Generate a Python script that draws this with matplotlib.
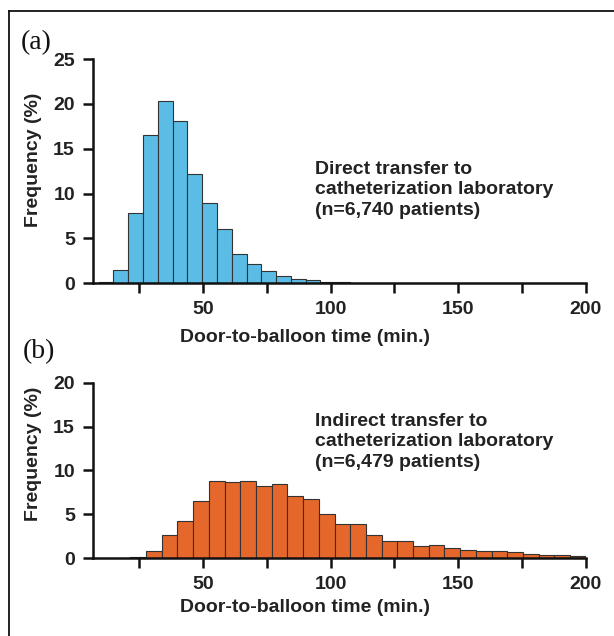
import matplotlib
matplotlib.use("Agg")
import matplotlib.pyplot as plt
import numpy as np

# --- data ----------------------------------------------------------------
direct_start, direct_width = 9.2, 5.79      # min
direct_freq = [0.15, 1.5, 7.8, 16.5, 20.3, 18.1, 12.2, 8.9, 6.0, 3.3, 2.2,
               1.4, 0.8, 0.5, 0.35, 0.2, 0.1, 0.08, 0.06, 0.05, 0.04, 0.04,
               0.03, 0.03, 0.02, 0.02, 0.02, 0.01, 0.01, 0.01, 0.01, 0.01,
               0.01]
indirect_start, indirect_width = 21.6, 6.15
indirect_freq = [0.2, 0.8, 2.6, 4.3, 6.5, 8.85, 8.7, 8.85, 8.2, 8.45, 7.15,
                 6.7, 5.1, 3.85, 3.85, 2.6, 2.0, 2.0, 1.35, 1.5, 1.2, 1.0,
                 0.85, 0.85, 0.7, 0.5, 0.4, 0.4, 0.25]

x_ticks = [50, 100, 150, 200]
x_minor = [25, 75, 125, 175]

BLUE = "#5BBDE6"
ORANGE = "#E5672B"
SANS = ["Liberation Sans", "DejaVu Sans"]
SERIF = ["Liberation Serif", "DejaVu Serif"]
FS = 14

W, H = 614, 636
fig = plt.figure(figsize=(W / 100, H / 100), dpi=100)


def px(x0, y0, x1, y1):
    # pixel box (top-left origin) -> figure fraction rect
    return [x0 / W, 1 - y1 / H, (x1 - x0) / W, (y1 - y0) / H]


def hist_panel(rect, start, width, freq, color, ymax, xlabel_y, ylabel_y):
    ax = fig.add_axes(rect)
    edges = start + width * np.arange(len(freq))
    ax.bar(edges, freq, width=width, align="edge", color=color,
           edgecolor="#333333", linewidth=0.8, zorder=2)
    ax.set_xlim(7, 200)
    ax.set_ylim(0, ymax)
    ax.set_xticks(x_ticks)
    ax.set_xticks(x_minor, minor=True)
    ax.set_yticks(np.arange(0, ymax + 1, 5))
    for s in ["top", "right"]:
        ax.spines[s].set_visible(False)
    for s in ["left", "bottom"]:
        ax.spines[s].set_linewidth(1.8)
        ax.spines[s].set_color("#111")
    ax.tick_params(axis="both", which="both", direction="out", length=7,
                   width=1.8, color="#111", pad=6)
    ax.tick_params(axis="x", which="minor", labelbottom=False)
    for lab in ax.get_xticklabels() + ax.get_yticklabels():
        lab.set_fontfamily(SANS)
        lab.set_fontweight("bold")
        lab.set_fontsize(FS)
        lab.set_color("#222")
    fig.text(305 / W, 1 - xlabel_y / H, "Door-to-balloon time (min.)",
             ha="center", va="center", family=SANS, weight="bold",
             fontsize=FS, color="#222")
    fig.text(33 / W, 1 - ylabel_y / H, "Frequency (%)", rotation=90,
             ha="center", va="center", family=SANS, weight="bold",
             fontsize=FS, color="#222")
    return ax


ax1 = hist_panel(px(93, 59, 586, 283.3), direct_start, direct_width,
                 direct_freq, BLUE, 25, 337, 160)
ax2 = hist_panel(px(93, 382.7, 586, 558.3), indirect_start, indirect_width,
                 indirect_freq, ORANGE, 20, 607, 454)

notes = [
    ("Direct transfer to\ncatheterization laboratory\n(n=6,740 patients)", 190),
    ("Indirect transfer to\ncatheterization laboratory\n(n=6,479 patients)", 442),
]
for txt, yc in notes:
    fig.text(315 / W, 1 - yc / H, txt, ha="left", va="center", family=SANS,
             weight="bold", fontsize=FS, color="#222", linespacing=1.3)

fig.text(21 / W, 1 - 43 / H, "(a)", ha="left", va="center", family=SERIF,
         fontsize=20, color="#111")
fig.text(23 / W, 1 - 352 / H, "(b)", ha="left", va="center", family=SERIF,
         fontsize=20, color="#111")

# outer frame
fig.add_artist(plt.Line2D([9 / W, 9 / W], [0, 1 - 11 / H],
                          transform=fig.transFigure, color="#111", lw=1.3))
fig.add_artist(plt.Line2D([9 / W, 1], [1 - 11 / H, 1 - 11 / H],
                          transform=fig.transFigure, color="#111", lw=1.3))

fig.savefig("out.png", dpi=100)
